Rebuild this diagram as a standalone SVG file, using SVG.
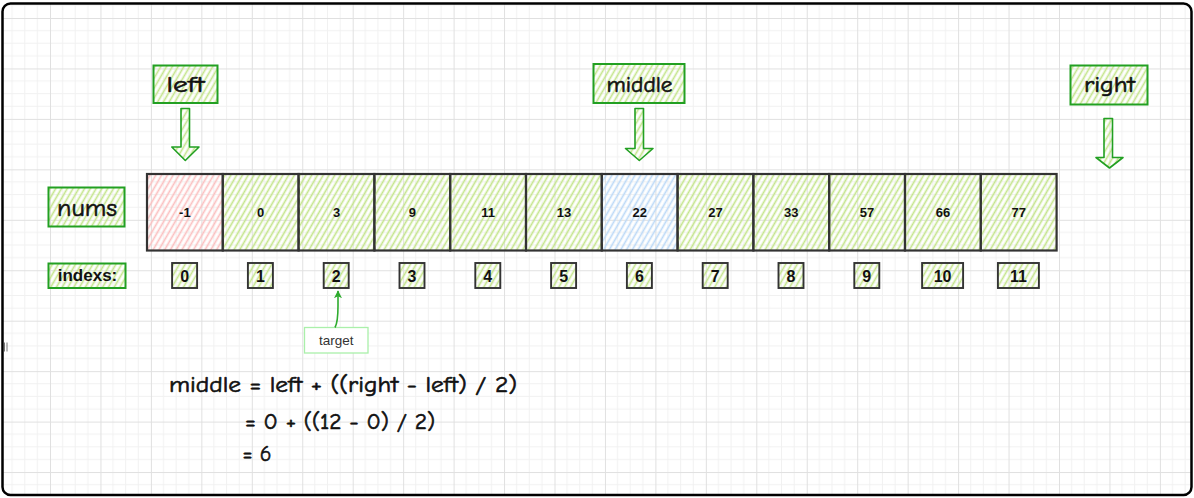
<svg xmlns="http://www.w3.org/2000/svg" width="1194" height="498" viewBox="0 0 1194 498">
  <defs>
    <pattern id="grid" patternUnits="userSpaceOnUse" x="-0.45" y="18" width="50.45" height="50.45">
      <path d="M12.61 0V50.45M25.22 0V50.45M37.84 0V50.45M0 12.61H50.45M0 25.22H50.45M0 37.84H50.45" stroke="#f1f1f1" stroke-width="1" fill="none"/>
      <path d="M0.5 0V50.45M0 0.5H50.45" stroke="#e0e0e0" stroke-width="1" fill="none"/>
    </pattern>
    <pattern id="hG" patternUnits="userSpaceOnUse" width="5" height="10" patternTransform="rotate(30)">
      <line x1="2.5" y1="0" x2="2.5" y2="10" stroke="#c4e58c" stroke-width="1.7"/>
    </pattern>
    <pattern id="hR" patternUnits="userSpaceOnUse" width="5" height="10" patternTransform="rotate(30)">
      <line x1="2.5" y1="0" x2="2.5" y2="10" stroke="#fbc0c0" stroke-width="1.7"/>
    </pattern>
    <pattern id="hB" patternUnits="userSpaceOnUse" width="5" height="10" patternTransform="rotate(30)">
      <line x1="2.5" y1="0" x2="2.5" y2="10" stroke="#bcd9f7" stroke-width="1.7"/>
    </pattern>
    <marker id="ah" viewBox="0 0 10 10" refX="9" refY="5" markerWidth="8" markerHeight="8" markerUnits="userSpaceOnUse" orient="auto">
      <path d="M0 0L10 5L0 10L2.5 5Z" fill="#2eab2e"/>
    </marker>
  </defs>
  <style>
    .lbl { fill: url(#hG); stroke: #22a022; stroke-width: 2; }
    .arrow { fill: url(#hG); stroke: #22a022; stroke-width: 1.6; stroke-linejoin: round; }
    .cell { stroke: #333333; stroke-width: 2.2; }
    .idx { fill: url(#hG); stroke: #333333; stroke-width: 1.9; }
    .comic { font-family: "Comic Sans MS", "Comic Neue", "Noto Sans", sans-serif; fill: #111111; stroke: #111111; stroke-width: 0.6; }
    .val { font-family: "Liberation Sans", Arial, sans-serif; font-weight: bold; font-size: 13px; fill: #111111; text-anchor: middle; }
    .ix { font-family: "Liberation Sans", Arial, sans-serif; font-weight: bold; font-size: 16px; fill: #111111; text-anchor: middle; }
  </style>

  <rect x="0" y="0" width="1194" height="498" fill="#ffffff"/>
  <rect x="2.5" y="3.5" width="1189" height="491.5" rx="8" fill="url(#grid)" stroke="#000000" stroke-width="2.5"/>
  <path d="M4.5 342.5V351.5M7 342.5V351.5" stroke="#777777" stroke-width="1"/>

  <g id="label-left">
    <rect class="lbl" x="153.5" y="65.5" width="64" height="37.5"/>
    <text class="comic" x="185.5" y="92" font-size="22" text-anchor="middle" textLength="38" lengthAdjust="spacingAndGlyphs">left</text>
  </g>
  <g id="label-middle">
    <rect class="lbl" x="593.5" y="64" width="91" height="39"/>
    <text class="comic" x="639.5" y="92" font-size="22" text-anchor="middle" textLength="66" lengthAdjust="spacingAndGlyphs">middle</text>
  </g>
  <g id="label-right">
    <rect class="lbl" x="1070.5" y="65.5" width="77" height="39"/>
    <text class="comic" x="1109.5" y="91.5" font-size="22" text-anchor="middle" textLength="51" lengthAdjust="spacingAndGlyphs">right</text>
  </g>
  <g id="label-nums">
    <rect class="lbl" x="48.5" y="187.5" width="76" height="39"/>
    <text class="comic" x="87" y="216" font-size="25" text-anchor="middle" textLength="60" lengthAdjust="spacingAndGlyphs">nums</text>
  </g>
  <g id="label-indexs">
    <rect class="lbl" x="48.5" y="263.5" width="77" height="24.5"/>
    <text x="87.5" y="281" font-family="Liberation Sans, Arial, sans-serif" font-weight="bold" font-size="17" fill="#111111" text-anchor="middle">indexs:</text>
  </g>

  <g id="pointer-left">
    <path class="arrow" d="M181 108.5H189.5V147H199L185.3 160.5L171.8 147H181Z"/>
  </g>
  <g id="pointer-middle">
    <path class="arrow" d="M635 108.5H643.5V148.5H653L639.3 160.5L625.5 148.5H635Z"/>
  </g>
  <g id="pointer-right">
    <path class="arrow" d="M1104 118.5H1112.5V157.5H1123L1109.5 168L1096 157.5H1104Z"/>
  </g>

  <g id="array">
    <g id="cell-0"><rect class="cell" x="147" y="174" width="75.8" height="76.5" fill="url(#hR)"/><text class="val" x="184.9" y="217">-1</text></g>
    <g id="cell-1"><rect class="cell" x="222.8" y="174" width="75.8" height="76.5" fill="url(#hG)"/><text class="val" x="260.7" y="217">0</text></g>
    <g id="cell-2"><rect class="cell" x="298.6" y="174" width="75.8" height="76.5" fill="url(#hG)"/><text class="val" x="336.5" y="217">3</text></g>
    <g id="cell-3"><rect class="cell" x="374.4" y="174" width="75.8" height="76.5" fill="url(#hG)"/><text class="val" x="412.3" y="217">9</text></g>
    <g id="cell-4"><rect class="cell" x="450.2" y="174" width="75.8" height="76.5" fill="url(#hG)"/><text class="val" x="488.1" y="217">11</text></g>
    <g id="cell-5"><rect class="cell" x="526" y="174" width="75.8" height="76.5" fill="url(#hG)"/><text class="val" x="563.9" y="217">13</text></g>
    <g id="cell-6"><rect class="cell" x="601.8" y="174" width="75.8" height="76.5" fill="url(#hB)"/><text class="val" x="639.7" y="217">22</text></g>
    <g id="cell-7"><rect class="cell" x="677.6" y="174" width="75.8" height="76.5" fill="url(#hG)"/><text class="val" x="715.5" y="217">27</text></g>
    <g id="cell-8"><rect class="cell" x="753.4" y="174" width="75.8" height="76.5" fill="url(#hG)"/><text class="val" x="791.3" y="217">33</text></g>
    <g id="cell-9"><rect class="cell" x="829.2" y="174" width="75.8" height="76.5" fill="url(#hG)"/><text class="val" x="867.1" y="217">57</text></g>
    <g id="cell-10"><rect class="cell" x="905" y="174" width="75.8" height="76.5" fill="url(#hG)"/><text class="val" x="942.9" y="217">66</text></g>
    <g id="cell-11"><rect class="cell" x="980.8" y="174" width="75.8" height="76.5" fill="url(#hG)"/><text class="val" x="1018.7" y="217">77</text></g>
  </g>

  <g id="indexes">
    <g id="idx-0"><rect class="idx" x="172.1" y="263" width="25" height="25"/><text class="ix" x="184.6" y="281.5">0</text></g>
    <g id="idx-1"><rect class="idx" x="247.9" y="263" width="25" height="25"/><text class="ix" x="260.4" y="281.5">1</text></g>
    <g id="idx-2"><rect class="idx" x="323.7" y="263" width="25" height="25"/><text class="ix" x="336.2" y="281.5">2</text></g>
    <g id="idx-3"><rect class="idx" x="399.5" y="263" width="25" height="25"/><text class="ix" x="412" y="281.5">3</text></g>
    <g id="idx-4"><rect class="idx" x="475.3" y="263" width="25" height="25"/><text class="ix" x="487.8" y="281.5">4</text></g>
    <g id="idx-5"><rect class="idx" x="551.1" y="263" width="25" height="25"/><text class="ix" x="563.6" y="281.5">5</text></g>
    <g id="idx-6"><rect class="idx" x="626.9" y="263" width="25" height="25"/><text class="ix" x="639.4" y="281.5">6</text></g>
    <g id="idx-7"><rect class="idx" x="702.7" y="263" width="25" height="25"/><text class="ix" x="715.2" y="281.5">7</text></g>
    <g id="idx-8"><rect class="idx" x="778.5" y="263" width="25" height="25"/><text class="ix" x="791" y="281.5">8</text></g>
    <g id="idx-9"><rect class="idx" x="854.3" y="263" width="25" height="25"/><text class="ix" x="866.8" y="281.5">9</text></g>
    <g id="idx-10"><rect class="idx" x="922.1" y="263" width="41" height="25"/><text class="ix" x="942.6" y="281.5">10</text></g>
    <g id="idx-11"><rect class="idx" x="997.9" y="263" width="41" height="25"/><text class="ix" x="1018.4" y="281.5">11</text></g>
  </g>

  <g id="target">
    <rect x="304.5" y="327.5" width="63.5" height="25.5" fill="#ffffff" stroke="#aaf0aa" stroke-width="1.3"/>
    <text x="336.3" y="345" font-family="Liberation Sans, Arial, sans-serif" font-size="13.5" fill="#333333" text-anchor="middle">target</text>
  </g>

  <g id="connectors">
    <path d="M335 327.5C337.5 323 338 316 338 306L338 291" fill="none" stroke="#2eab2e" stroke-width="1.6" marker-end="url(#ah)"/>
  </g>

  <g id="formula">
    <text class="comic" x="169" y="392" font-size="22" textLength="348" lengthAdjust="spacingAndGlyphs">middle = left + ((right - left) / 2)</text>
    <text class="comic" x="245" y="429" font-size="22" textLength="190" lengthAdjust="spacingAndGlyphs">= 0 + ((12 - 0) / 2)</text>
    <text class="comic" x="242.5" y="460.5" font-size="22" textLength="29" lengthAdjust="spacingAndGlyphs">= 6</text>
  </g>
</svg>
